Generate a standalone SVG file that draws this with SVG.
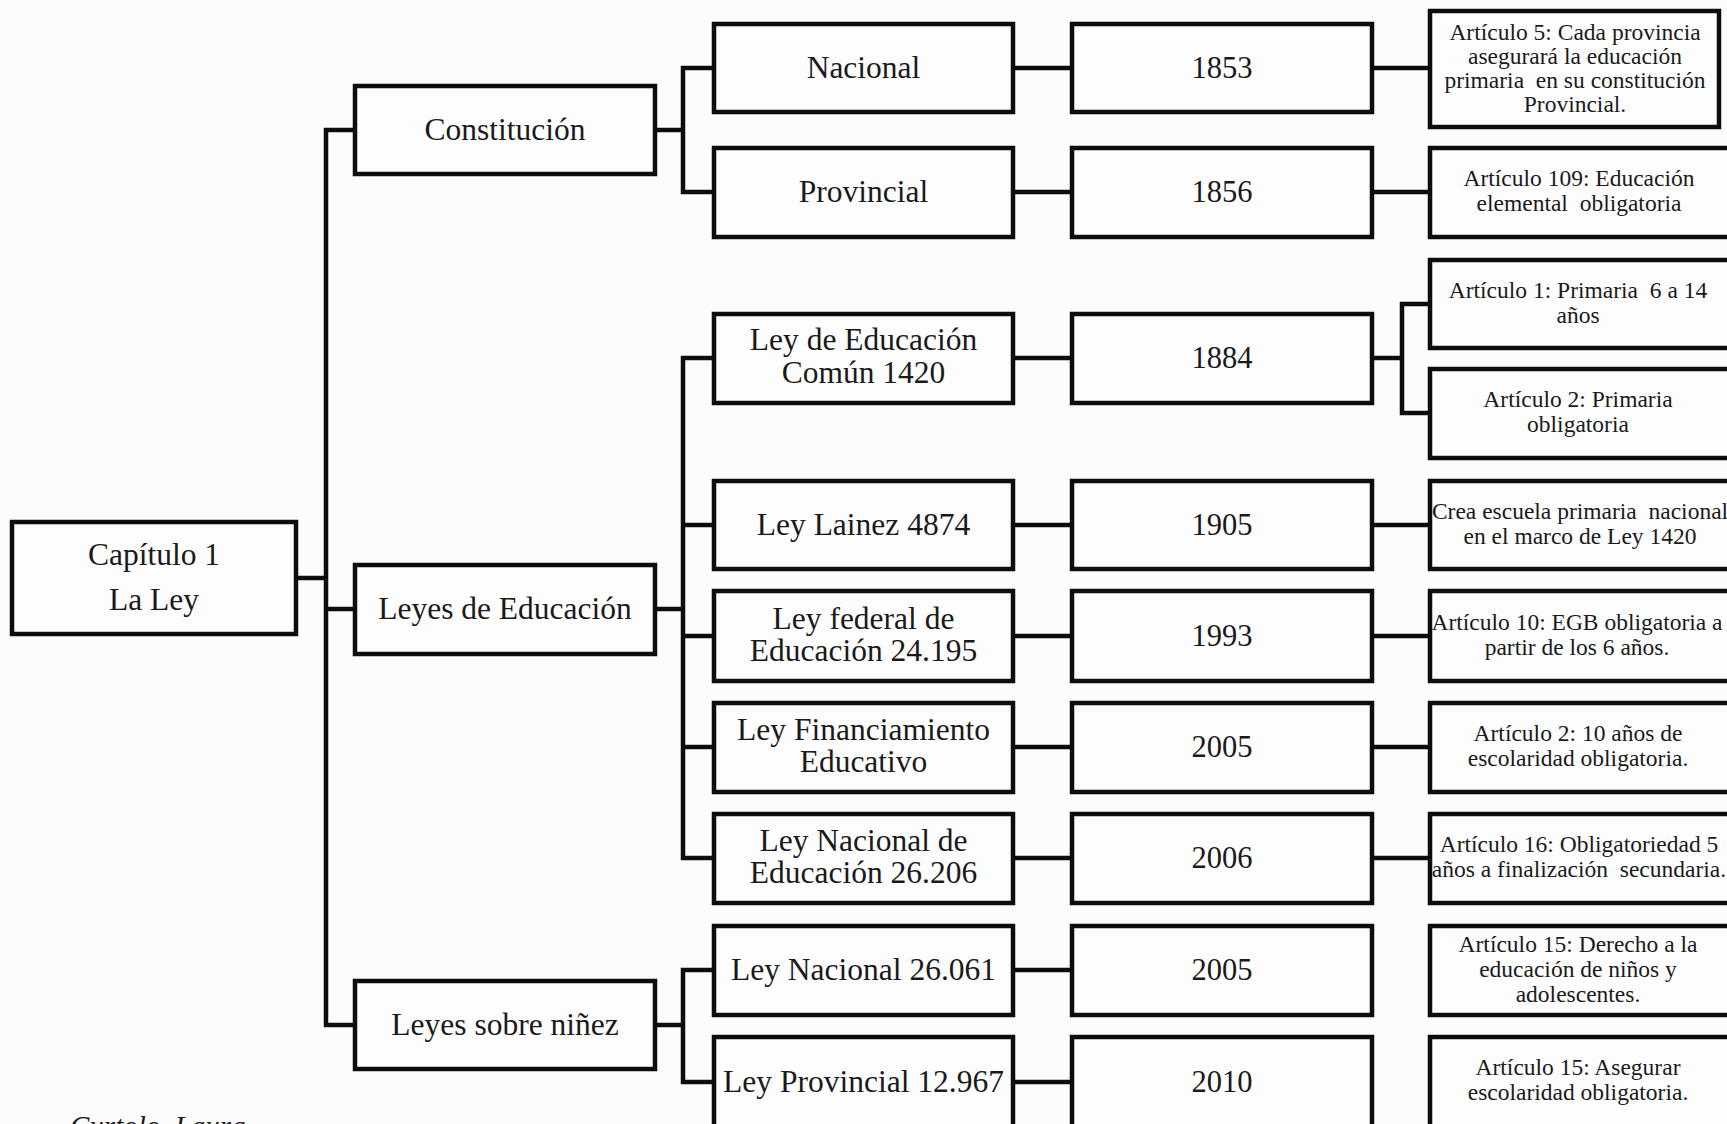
<svg xmlns="http://www.w3.org/2000/svg" width="1727" height="1124" viewBox="0 0 1727 1124">
<style>
.bg{fill:#fcfcfc}
.box{fill:#fdfdfd;stroke:#0d0d0d;stroke-width:4.5}
.ln{fill:none;stroke:#0d0d0d;stroke-width:4.5;stroke-linejoin:miter;stroke-linecap:square}
text{font-family:"Liberation Serif","Times New Roman",serif;fill:#1a1a1a;text-anchor:middle}
.lb{font-size:31.5px}
.yr{font-size:30.5px}
.ar{font-size:23.5px}
.pre{white-space:pre}
.au{font-size:29px;font-style:italic;text-anchor:start}
</style>
<rect class="bg" x="0" y="0" width="1727" height="1124"/>

<g id="connectors">
  <!-- main trunk -->
  <path class="ln" d="M296 578 H326 M326 130 V1025 M326 130 H355 M326 609 H355 M326 1025 H355"/>
  <!-- Constitución branch -->
  <path class="ln" d="M655 130 H683 M683 68 V192 M683 68 H714 M683 192 H714"/>
  <!-- Leyes de Educación branch -->
  <path class="ln" d="M655 609 H683 M683 358 V858 M683 358 H714 M683 525 H714 M683 636 H714 M683 747 H714 M683 858 H714"/>
  <!-- Leyes sobre niñez branch -->
  <path class="ln" d="M655 1025 H683 M683 970 V1082 M683 970 H714 M683 1082 H714"/>
  <!-- law to year -->
  <path class="ln" d="M1013 68 H1072 M1013 192 H1072 M1013 358 H1072 M1013 525 H1072 M1013 636 H1072 M1013 747 H1072 M1013 858 H1072 M1013 970 H1072 M1013 1082 H1072"/>
  <!-- year to article -->
  <path class="ln" d="M1372 68 H1430 M1372 192 H1430 M1372 525 H1430 M1372 636 H1430 M1372 747 H1430 M1372 858 H1430"/>
  <path class="ln" d="M1372 358 H1402 M1402 304 V413 M1402 304 H1430 M1402 413 H1430"/>
</g>

<g id="n-capitulo">
  <rect class="box" x="12" y="522" width="284" height="112"/>
  <text class="lb" x="154" y="565">Capítulo 1</text>
  <text class="lb" x="154" y="610">La Ley</text>
</g>

<g id="n-constitucion">
  <rect class="box" x="355" y="86" width="300" height="88"/>
  <text class="lb" x="505" y="140">Constitución</text>
</g>
<g id="n-leyes-educacion">
  <rect class="box" x="355" y="565" width="300" height="89"/>
  <text class="lb" x="505" y="619">Leyes de Educación</text>
</g>
<g id="n-leyes-ninez">
  <rect class="box" x="355" y="981" width="300" height="88"/>
  <text class="lb" x="505" y="1035">Leyes sobre niñez</text>
</g>

<!-- Column 2: laws -->
<g id="n-nacional">
  <rect class="box" x="714" y="24" width="299" height="88"/>
  <text class="lb" x="863.5" y="78">Nacional</text>
</g>
<g id="n-provincial">
  <rect class="box" x="714" y="148" width="299" height="89"/>
  <text class="lb" x="863.5" y="202">Provincial</text>
</g>
<g id="n-ley1420">
  <rect class="box" x="714" y="314" width="299" height="89"/>
  <text class="lb" x="863.5" y="350">Ley de Educación</text>
  <text class="lb" x="863.5" y="383">Común 1420</text>
</g>
<g id="n-lainez">
  <rect class="box" x="714" y="481" width="299" height="88"/>
  <text class="lb" x="863.5" y="535">Ley Lainez 4874</text>
</g>
<g id="n-federal">
  <rect class="box" x="714" y="591" width="299" height="90"/>
  <text class="lb" x="863.5" y="629">Ley federal de</text>
  <text class="lb" x="863.5" y="661">Educación 24.195</text>
</g>
<g id="n-financiamiento">
  <rect class="box" x="714" y="703" width="299" height="89"/>
  <text class="lb" x="863.5" y="740">Ley Financiamiento</text>
  <text class="lb" x="863.5" y="772">Educativo</text>
</g>
<g id="n-nacional-educacion">
  <rect class="box" x="714" y="814" width="299" height="89"/>
  <text class="lb" x="863.5" y="851">Ley Nacional de</text>
  <text class="lb" x="863.5" y="883">Educación 26.206</text>
</g>
<g id="n-nacional-26061">
  <rect class="box" x="714" y="926" width="299" height="89"/>
  <text class="lb" x="863.5" y="980">Ley Nacional 26.061</text>
</g>
<g id="n-provincial-12967">
  <rect class="box" x="714" y="1037" width="299" height="95"/>
  <text class="lb" x="863.5" y="1092">Ley Provincial 12.967</text>
</g>

<!-- Column 3: years -->
<g id="y-1853"><rect class="box" x="1072" y="24" width="300" height="88"/><text class="yr" x="1222" y="78">1853</text></g>
<g id="y-1856"><rect class="box" x="1072" y="148" width="300" height="89"/><text class="yr" x="1222" y="202">1856</text></g>
<g id="y-1884"><rect class="box" x="1072" y="314" width="300" height="89"/><text class="yr" x="1222" y="368">1884</text></g>
<g id="y-1905"><rect class="box" x="1072" y="481" width="300" height="88"/><text class="yr" x="1222" y="535">1905</text></g>
<g id="y-1993"><rect class="box" x="1072" y="591" width="300" height="90"/><text class="yr" x="1222" y="646">1993</text></g>
<g id="y-2005a"><rect class="box" x="1072" y="703" width="300" height="89"/><text class="yr" x="1222" y="757">2005</text></g>
<g id="y-2006"><rect class="box" x="1072" y="814" width="300" height="89"/><text class="yr" x="1222" y="868">2006</text></g>
<g id="y-2005b"><rect class="box" x="1072" y="926" width="300" height="89"/><text class="yr" x="1222" y="980">2005</text></g>
<g id="y-2010"><rect class="box" x="1072" y="1037" width="300" height="95"/><text class="yr" x="1222" y="1092">2010</text></g>

<!-- Column 4: articles -->
<g id="a-art5">
  <rect class="box" x="1430" y="11" width="289" height="116"/>
  <text class="ar" x="1575" y="40">Artículo 5: Cada provincia</text>
  <text class="ar" x="1575" y="64">asegurará la educación</text>
  <text class="ar pre" x="1575" y="88">primaria  en su constitución</text>
  <text class="ar" x="1575" y="112">Provincial.</text>
</g>
<g id="a-art109">
  <rect class="box" x="1430" y="148" width="310" height="89"/>
  <text class="ar" x="1579" y="186">Artículo 109: Educación</text>
  <text class="ar pre" x="1579" y="211">elemental  obligatoria</text>
</g>
<g id="a-art1">
  <rect class="box" x="1430" y="260" width="310" height="88"/>
  <text class="ar pre" x="1578" y="298">Artículo 1: Primaria  6 a 14</text>
  <text class="ar" x="1578" y="323">años</text>
</g>
<g id="a-art2">
  <rect class="box" x="1430" y="369" width="310" height="89"/>
  <text class="ar" x="1578" y="407">Artículo 2: Primaria</text>
  <text class="ar" x="1578" y="432">obligatoria</text>
</g>
<g id="a-crea">
  <rect class="box" x="1430" y="481" width="310" height="88"/>
  <text class="ar pre" x="1580" y="519">Crea escuela primaria  nacional</text>
  <text class="ar" x="1580" y="544">en el marco de Ley 1420</text>
</g>
<g id="a-art10">
  <rect class="box" x="1430" y="591" width="310" height="90"/>
  <text class="ar" x="1577" y="630">Artículo 10: EGB obligatoria a</text>
  <text class="ar" x="1577" y="655">partir de los 6 años.</text>
</g>
<g id="a-art2b">
  <rect class="box" x="1430" y="703" width="310" height="89"/>
  <text class="ar" x="1578" y="741">Artículo 2: 10 años de</text>
  <text class="ar" x="1578" y="766">escolaridad obligatoria.</text>
</g>
<g id="a-art16">
  <rect class="box" x="1430" y="814" width="310" height="89"/>
  <text class="ar" x="1579" y="852">Artículo 16: Obligatoriedad 5</text>
  <text class="ar pre" x="1579" y="877">años a finalización  secundaria.</text>
</g>
<g id="a-art15a">
  <rect class="box" x="1430" y="926" width="310" height="89"/>
  <text class="ar" x="1578" y="952">Artículo 15: Derecho a la</text>
  <text class="ar" x="1578" y="977">educación de niños y</text>
  <text class="ar" x="1578" y="1002">adolescentes.</text>
</g>
<g id="a-art15b">
  <rect class="box" x="1430" y="1037" width="310" height="95"/>
  <text class="ar" x="1578" y="1075">Artículo 15: Asegurar</text>
  <text class="ar" x="1578" y="1100">escolaridad obligatoria.</text>
</g>

<text class="au" x="70" y="1136">Curtolo, Laura</text>
</svg>
